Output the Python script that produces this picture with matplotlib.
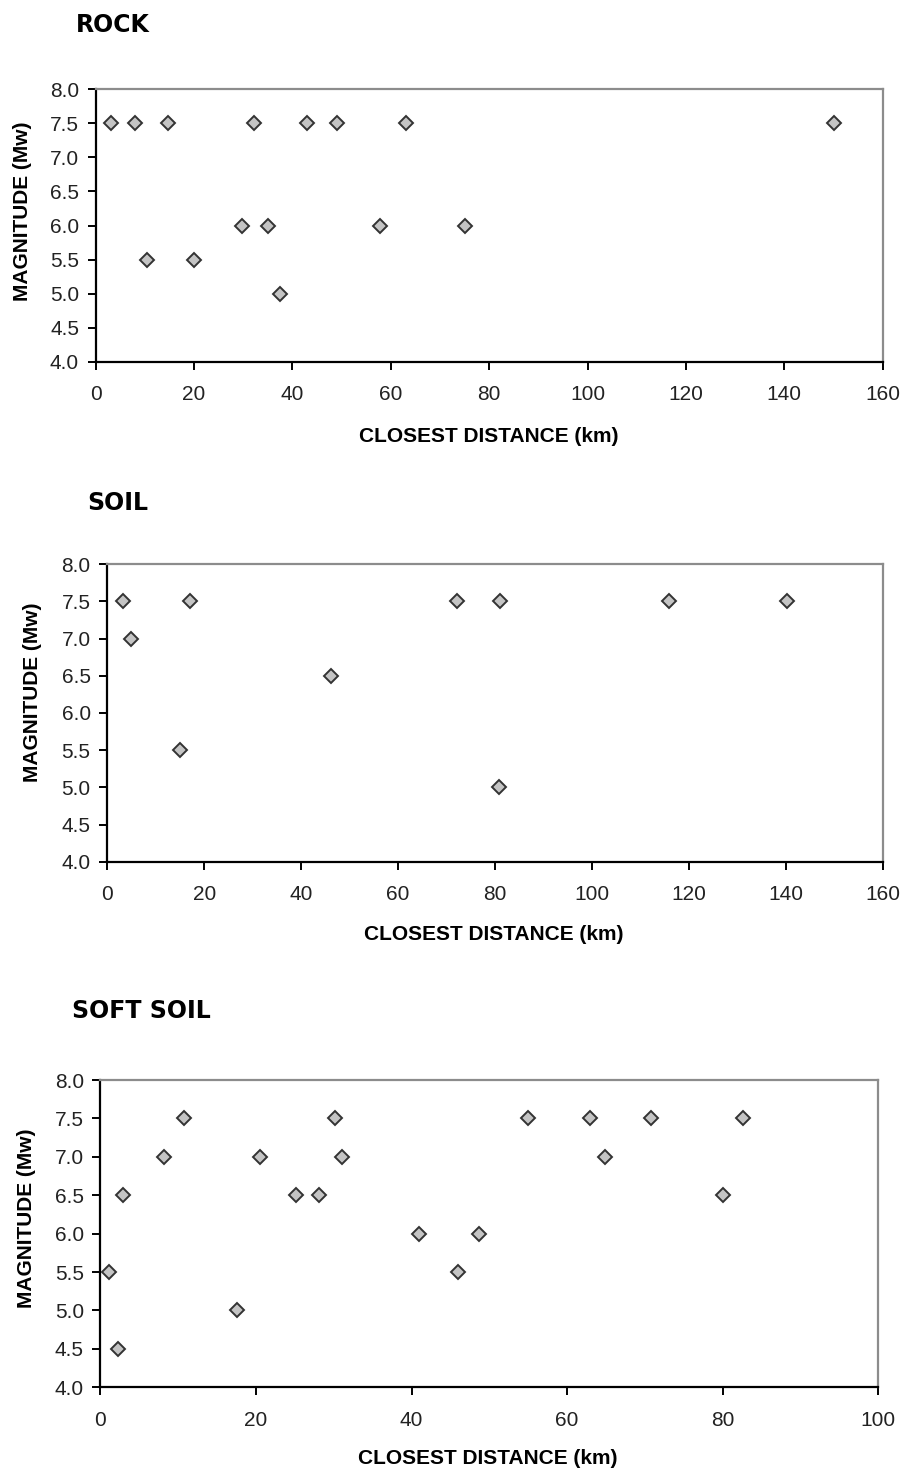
import numpy as np
import matplotlib
matplotlib.use('Agg')
import matplotlib.pyplot as plt

# ROCK sites: closest distance (km) vs magnitude (Mw)
rock_dist = [3.1, 8.0, 14.6, 32.2, 43.0, 49.0, 63.1, 150.0,
             29.8, 35.1, 57.8, 75.1, 10.4, 20.0, 37.5]
rock_mag = [7.5, 7.5, 7.5, 7.5, 7.5, 7.5, 7.5, 7.5,
            6.0, 6.0, 6.0, 6.0, 5.5, 5.5, 5.0]

# SOIL sites
soil_dist = [3.2, 17.1, 72.1, 81.0, 116.0, 140.2, 4.8, 46.2, 15.0, 80.8]
soil_mag = [7.5, 7.5, 7.5, 7.5, 7.5, 7.5, 7.0, 6.5, 5.5, 5.0]

# SOFT SOIL sites
soft_dist = [10.7, 30.1, 54.9, 62.9, 70.8, 82.6,
             8.2, 20.5, 31.0, 64.9,
             2.9, 25.1, 28.1, 80.0,
             40.9, 48.6, 1.1, 46.0, 17.5, 2.2]
soft_mag = [7.5, 7.5, 7.5, 7.5, 7.5, 7.5,
            7.0, 7.0, 7.0, 7.0,
            6.5, 6.5, 6.5, 6.5,
            6.0, 6.0, 5.5, 5.5, 5.0, 4.5]

W, H = 903, 1474
fig = plt.figure(figsize=(W / 100, H / 100), dpi=100)
fig.patch.set_facecolor('white')


def px_axes(left, top, right, bottom):
    return fig.add_axes([left / W, 1 - bottom / H, (right - left) / W, (bottom - top) / H])


def style(ax, xmax, xstep):
    ax.set_xlim(0, xmax)
    ax.set_ylim(4.0, 8.0)
    ax.set_xticks(np.arange(0, xmax + 1, xstep))
    ax.set_yticks(np.arange(4.0, 8.01, 0.5))
    ax.set_yticklabels([f'{v:.1f}' for v in np.arange(4.0, 8.01, 0.5)])
    for s in ['left', 'bottom']:
        ax.spines[s].set_color('black')
        ax.spines[s].set_linewidth(1.6)
    for s in ['top', 'right']:
        ax.spines[s].set_color('#8c8c8c')
        ax.spines[s].set_linewidth(1.6)
    ax.tick_params(axis='both', direction='out', length=6, width=1.4,
                   labelsize=15, color='black', labelcolor='#222222')
    ax.tick_params(axis='x', pad=11)
    ax.tick_params(axis='y', pad=6)
    for lab in ax.get_xticklabels() + ax.get_yticklabels():
        lab.set_family('Liberation Sans')


def scatter(ax, x, y):
    ax.plot(x, y, linestyle='none', marker='D', markersize=7,
            markerfacecolor='#c4c4c4', markeredgecolor='#333333',
            markeredgewidth=1.4, clip_on=False)


label_font = dict(family='Liberation Sans', weight='bold', size=15)
title_font = dict(family='DejaVu Sans', weight='bold', size=17)

# ROCK
ax1 = px_axes(95.7, 89.3, 882.7, 361.7)
scatter(ax1, rock_dist, rock_mag)
style(ax1, 160, 20)
fig.text(76 / W, 1 - 25 / H, 'ROCK', va='center', ha='left', **title_font)
fig.text(489 / W, 1 - 436 / H, 'CLOSEST DISTANCE (km)', ha='center', va='center', **label_font)
fig.text(23 / W, 1 - 211 / H, 'MAGNITUDE (Mw)', rotation=90, ha='center', va='center', **label_font)

# SOIL
ax2 = px_axes(107.3, 564.3, 882.7, 861.7)
scatter(ax2, soil_dist, soil_mag)
style(ax2, 160, 20)
fig.text(87 / W, 1 - 503 / H, 'SOIL', va='center', ha='left', **title_font)
fig.text(494 / W, 1 - 934 / H, 'CLOSEST DISTANCE (km)', ha='center', va='center', **label_font)
fig.text(33 / W, 1 - 692 / H, 'MAGNITUDE (Mw)', rotation=90, ha='center', va='center', **label_font)

# SOFT SOIL
ax3 = px_axes(100.5, 1080, 878.3, 1387.3)
scatter(ax3, soft_dist, soft_mag)
style(ax3, 100, 20)
fig.text(72 / W, 1 - 1011 / H, 'SOFT SOIL', va='center', ha='left', **title_font)
fig.text(488 / W, 1 - 1459 / H, 'CLOSEST DISTANCE (km)', ha='center', va='center', **label_font)
fig.text(27 / W, 1 - 1218 / H, 'MAGNITUDE (Mw)', rotation=90, ha='center', va='center', **label_font)

fig.savefig('out.png', dpi=100, facecolor='white')
